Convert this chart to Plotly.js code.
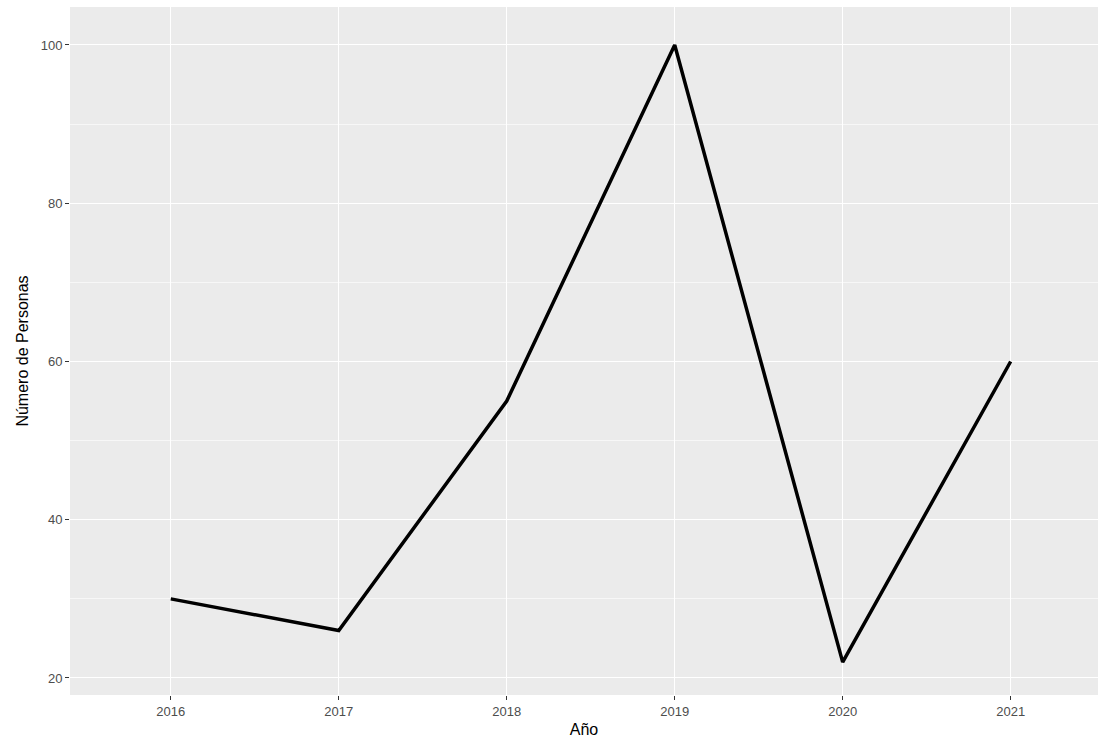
<!DOCTYPE html>
<html>
<head>
<meta charset="utf-8">
<script src="https://cdn.plot.ly/plotly-3.0.1.min.js"></script>
<style>body{margin:0;background:#fff}</style>
</head>
<body>
<div id="chart" style="width:1098px;height:740px"></div>
<script>
const years = [2016, 2017, 2018, 2019, 2020, 2021];
const personas = [30, 26, 55, 100, 22, 60];
const yTicks = [20, 40, 60, 80, 100];

const trace = {
  x: years, y: personas, type: "scatter", mode: "lines",
  line: {color: "#000", width: 3.5}, hoverinfo: "x+y"
};

const layout = {
  width: 1098, height: 740,
  margin: {l: 70, r: 0, t: 7, b: 45},
  paper_bgcolor: "#fff", plot_bgcolor: "#ebebeb",
  font: {family: "Liberation Sans, Arial", size: 13, color: "#4d4d4d"},
  showlegend: false,
  xaxis: {
    range: [2015.4, 2021.52], tickvals: years, ticks: "outside", ticklen: 4,
    tickcolor: "#333", showgrid: true, gridcolor: "#fff", gridwidth: 1.3,
    zeroline: false, showline: false,
    title: {text: "Año", font: {size: 16, color: "#000"}, standoff: 6}
  },
  yaxis: {
    range: [17.85, 104.8], tickvals: yTicks, ticks: "outside", ticklen: 4,
    tickcolor: "#333", showgrid: true, gridcolor: "#fff", gridwidth: 1.3,
    minor: {dtick: 10, tick0: 10, ticks: "", showgrid: true, gridcolor: "#f7f7f7", gridwidth: 0.6},
    zeroline: false, showline: false,
    title: {text: "Número de Personas", font: {size: 16, color: "#000"}, standoff: 8}
  }
};

Plotly.newPlot("chart", [trace], layout, {displayModeBar: false});
</script>
</body>
</html>
